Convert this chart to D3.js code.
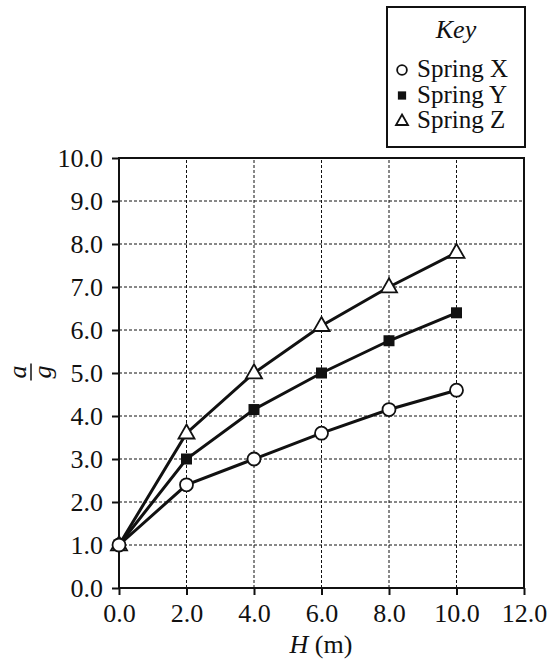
<!DOCTYPE html>
<html><head><meta charset="utf-8">
<script src="https://cdn.jsdelivr.net/npm/d3@7"></script>
<style>body{margin:0;background:#fff}svg{display:block}text{font-family:"Liberation Serif","Times New Roman",serif;fill:#111}</style>
</head><body><svg id="c" width="549" height="662"></svg>
<script>
const H = [0, 2, 4, 6, 8, 10];
const springX = [1.0, 2.4, 3.0, 3.6, 4.15, 4.6];
const springY = [1.0, 3.0, 4.15, 5.0, 5.75, 6.4];
const springZ = [1.0, 3.6, 5.0, 6.1, 7.0, 7.8];
const xTicks = [0, 2, 4, 6, 8, 10, 12];
const yTicks = [0, 1, 2, 3, 4, 5, 6, 7, 8, 9, 10];
const seriesNames = ["Spring X", "Spring Y", "Spring Z"];
const seriesShapes = ["circle", "square", "triangle"];

const svg = d3.select("#c");
const x = d3.scaleLinear().domain([0, 12]).range([119, 524]);
const y = d3.scaleLinear().domain([0, 10]).range([588, 158]);
const ink = "#111";
const FS = "26px";

// grid
const g = svg.append("g");
g.selectAll(".vg").data(xTicks.slice(1, -1)).join("line")
  .attr("x1", d => x(d)).attr("x2", d => x(d)).attr("y1", y(0)).attr("y2", y(10))
  .attr("stroke", ink).attr("stroke-width", 1).attr("stroke-dasharray", "3,2");
g.selectAll(".hg").data(yTicks.slice(1, -1)).join("line")
  .attr("y1", d => y(d)).attr("y2", d => y(d)).attr("x1", x(0)).attr("x2", x(12))
  .attr("stroke", ink).attr("stroke-width", 1).attr("stroke-dasharray", "3,2");

// frame
svg.append("rect").attr("x", x(0)).attr("y", y(10)).attr("width", x(12) - x(0)).attr("height", y(0) - y(10))
  .attr("fill", "none").attr("stroke", ink).attr("stroke-width", 2);

// axes
const fmt = d3.format(".1f");
const xAxis = svg.append("g").attr("transform", `translate(0,${y(0)})`)
  .call(d3.axisBottom(x).tickValues(xTicks).tickFormat(fmt).tickSize(7).tickPadding(9));
const yAxis = svg.append("g").attr("transform", `translate(${x(0)},0)`)
  .call(d3.axisLeft(y).tickValues(yTicks).tickFormat(fmt).tickSize(7).tickPadding(9));
[xAxis, yAxis].forEach(a => {
  a.select(".domain").remove();
  a.selectAll(".tick line").attr("stroke", ink).attr("stroke-width", 2);
  a.selectAll(".tick text").attr("fill", ink).style("font-size", FS)
    .style("font-family", '"Liberation Serif",serif');
});
yAxis.selectAll(".tick text").attr("dy", "0.34em");

// axis titles
const xt = svg.append("text").attr("x", 321).attr("y", 653).attr("text-anchor", "middle").style("font-size", FS);
xt.append("tspan").style("font-style", "italic").text("H");
xt.append("tspan").text(" (m)");
const yl = svg.append("g").attr("transform", "translate(31,372) rotate(-90)");
yl.append("text").attr("x", 0).attr("y", -5).attr("text-anchor", "middle").style("font-size", FS).style("font-style", "italic").text("a");
yl.append("line").attr("x1", -8.5).attr("x2", 8.5).attr("y1", 0).attr("y2", 0).attr("stroke", ink).attr("stroke-width", 1.5);
yl.append("text").attr("x", 0).attr("y", 20).attr("text-anchor", "middle").style("font-size", FS).style("font-style", "italic").text("g");

// series
const data = [springX, springY, springZ];
const line = d3.line().x((d, i) => x(H[i])).y(d => y(d));
data.forEach(s => {
  svg.append("path").datum(s).attr("d", line).attr("fill", "none").attr("stroke", ink).attr("stroke-width", 3);
});
function drawMarker(sel, shape, cx, cy, scale) {
  scale = scale || 1;
  if (shape === "circle") {
    sel.append("circle").attr("cx", cx).attr("cy", cy).attr("r", 6.5 * scale)
      .attr("fill", "#fff").attr("stroke", ink).attr("stroke-width", 1.8);
  } else if (shape === "square") {
    const s = 11 * scale;
    sel.append("rect").attr("x", cx - s / 2).attr("y", cy - s / 2).attr("width", s).attr("height", s).attr("fill", ink);
  } else {
    const w = 16 * scale, h = 14 * scale;
    sel.append("path").attr("d", `M${cx},${cy - h * 0.62}L${cx + w / 2},${cy + h * 0.38}L${cx - w / 2},${cy + h * 0.38}Z`)
      .attr("fill", "#fff").attr("stroke", ink).attr("stroke-width", 1.8);
  }
}
const mg = svg.append("g");
[2, 1, 0].forEach(k => {
  data[k].forEach((v, i) => drawMarker(mg, seriesShapes[k], x(H[i]), y(v)));
});

// legend
svg.append("rect").attr("x", 387).attr("y", 7).attr("width", 138).attr("height", 140)
  .attr("fill", "#fff").attr("stroke", ink).attr("stroke-width", 2);
svg.append("text").attr("x", 456).attr("y", 38).attr("text-anchor", "middle").style("font-size", FS).style("font-style", "italic").text("Key");
seriesNames.forEach((n, k) => {
  const base = 77 + k * 25.5;
  drawMarker(svg, seriesShapes[k], 402, base - 7, 0.75);
  svg.append("text").attr("x", 417).attr("y", base).style("font-size", "25px").text(n);
});
</script></body></html>
